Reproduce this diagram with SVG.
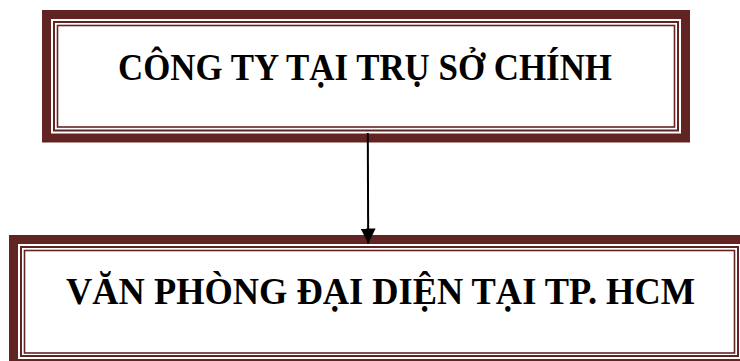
<svg xmlns="http://www.w3.org/2000/svg" width="740" height="361" viewBox="0 0 740 361">
  <style>
    .thick { fill: none; stroke: #622423; stroke-width: 9; }
    .thin1 { fill: none; stroke: #622423; stroke-width: 2; }
    .thin2 { fill: none; stroke: #622423; stroke-width: 1.6; }
    .label { font-family: "Liberation Serif", "Times New Roman", serif; font-weight: bold; fill: #000; text-anchor: middle; }
    .conn { stroke: #000; stroke-width: 2; fill: none; }
  </style>
  <defs>
    <marker id="arrow" viewBox="0 0 15 15" refX="15" refY="7.5" markerWidth="15" markerHeight="15" markerUnits="userSpaceOnUse" orient="auto">
      <path d="M0,0 L15,7.5 L0,15 Z" fill="#000"/>
    </marker>
  </defs>
  <rect width="740" height="361" fill="#fff"/>
  <g id="node-headquarters">
    <rect class="thick" x="46.5" y="14.5" width="639" height="123.5"/>
    <rect class="thin1" x="54" y="22" width="624" height="108.5"/>
    <rect class="thin2" x="57.5" y="25.5" width="617" height="101.5"/>
    <text class="label" x="365" y="80" font-size="37" textLength="494" lengthAdjust="spacingAndGlyphs">CÔNG TY TẠI TRỤ SỞ CHÍNH</text>
  </g>
  <g id="node-office">
    <rect class="thick" x="13.5" y="239.5" width="732" height="124"/>
    <rect class="thin1" x="21" y="247" width="717" height="109"/>
    <rect class="thin2" x="24.5" y="250.5" width="710" height="102.5"/>
    <text class="label" x="380.5" y="304" font-size="37" textLength="629" lengthAdjust="spacingAndGlyphs">VĂN PHÒNG ĐẠI DIỆN TẠI TP. HCM</text>
  </g>
  <g id="connectors">
    <line class="conn" x1="367.8" y1="133" x2="368.2" y2="243.5" marker-end="url(#arrow)"/>
  </g>
</svg>
